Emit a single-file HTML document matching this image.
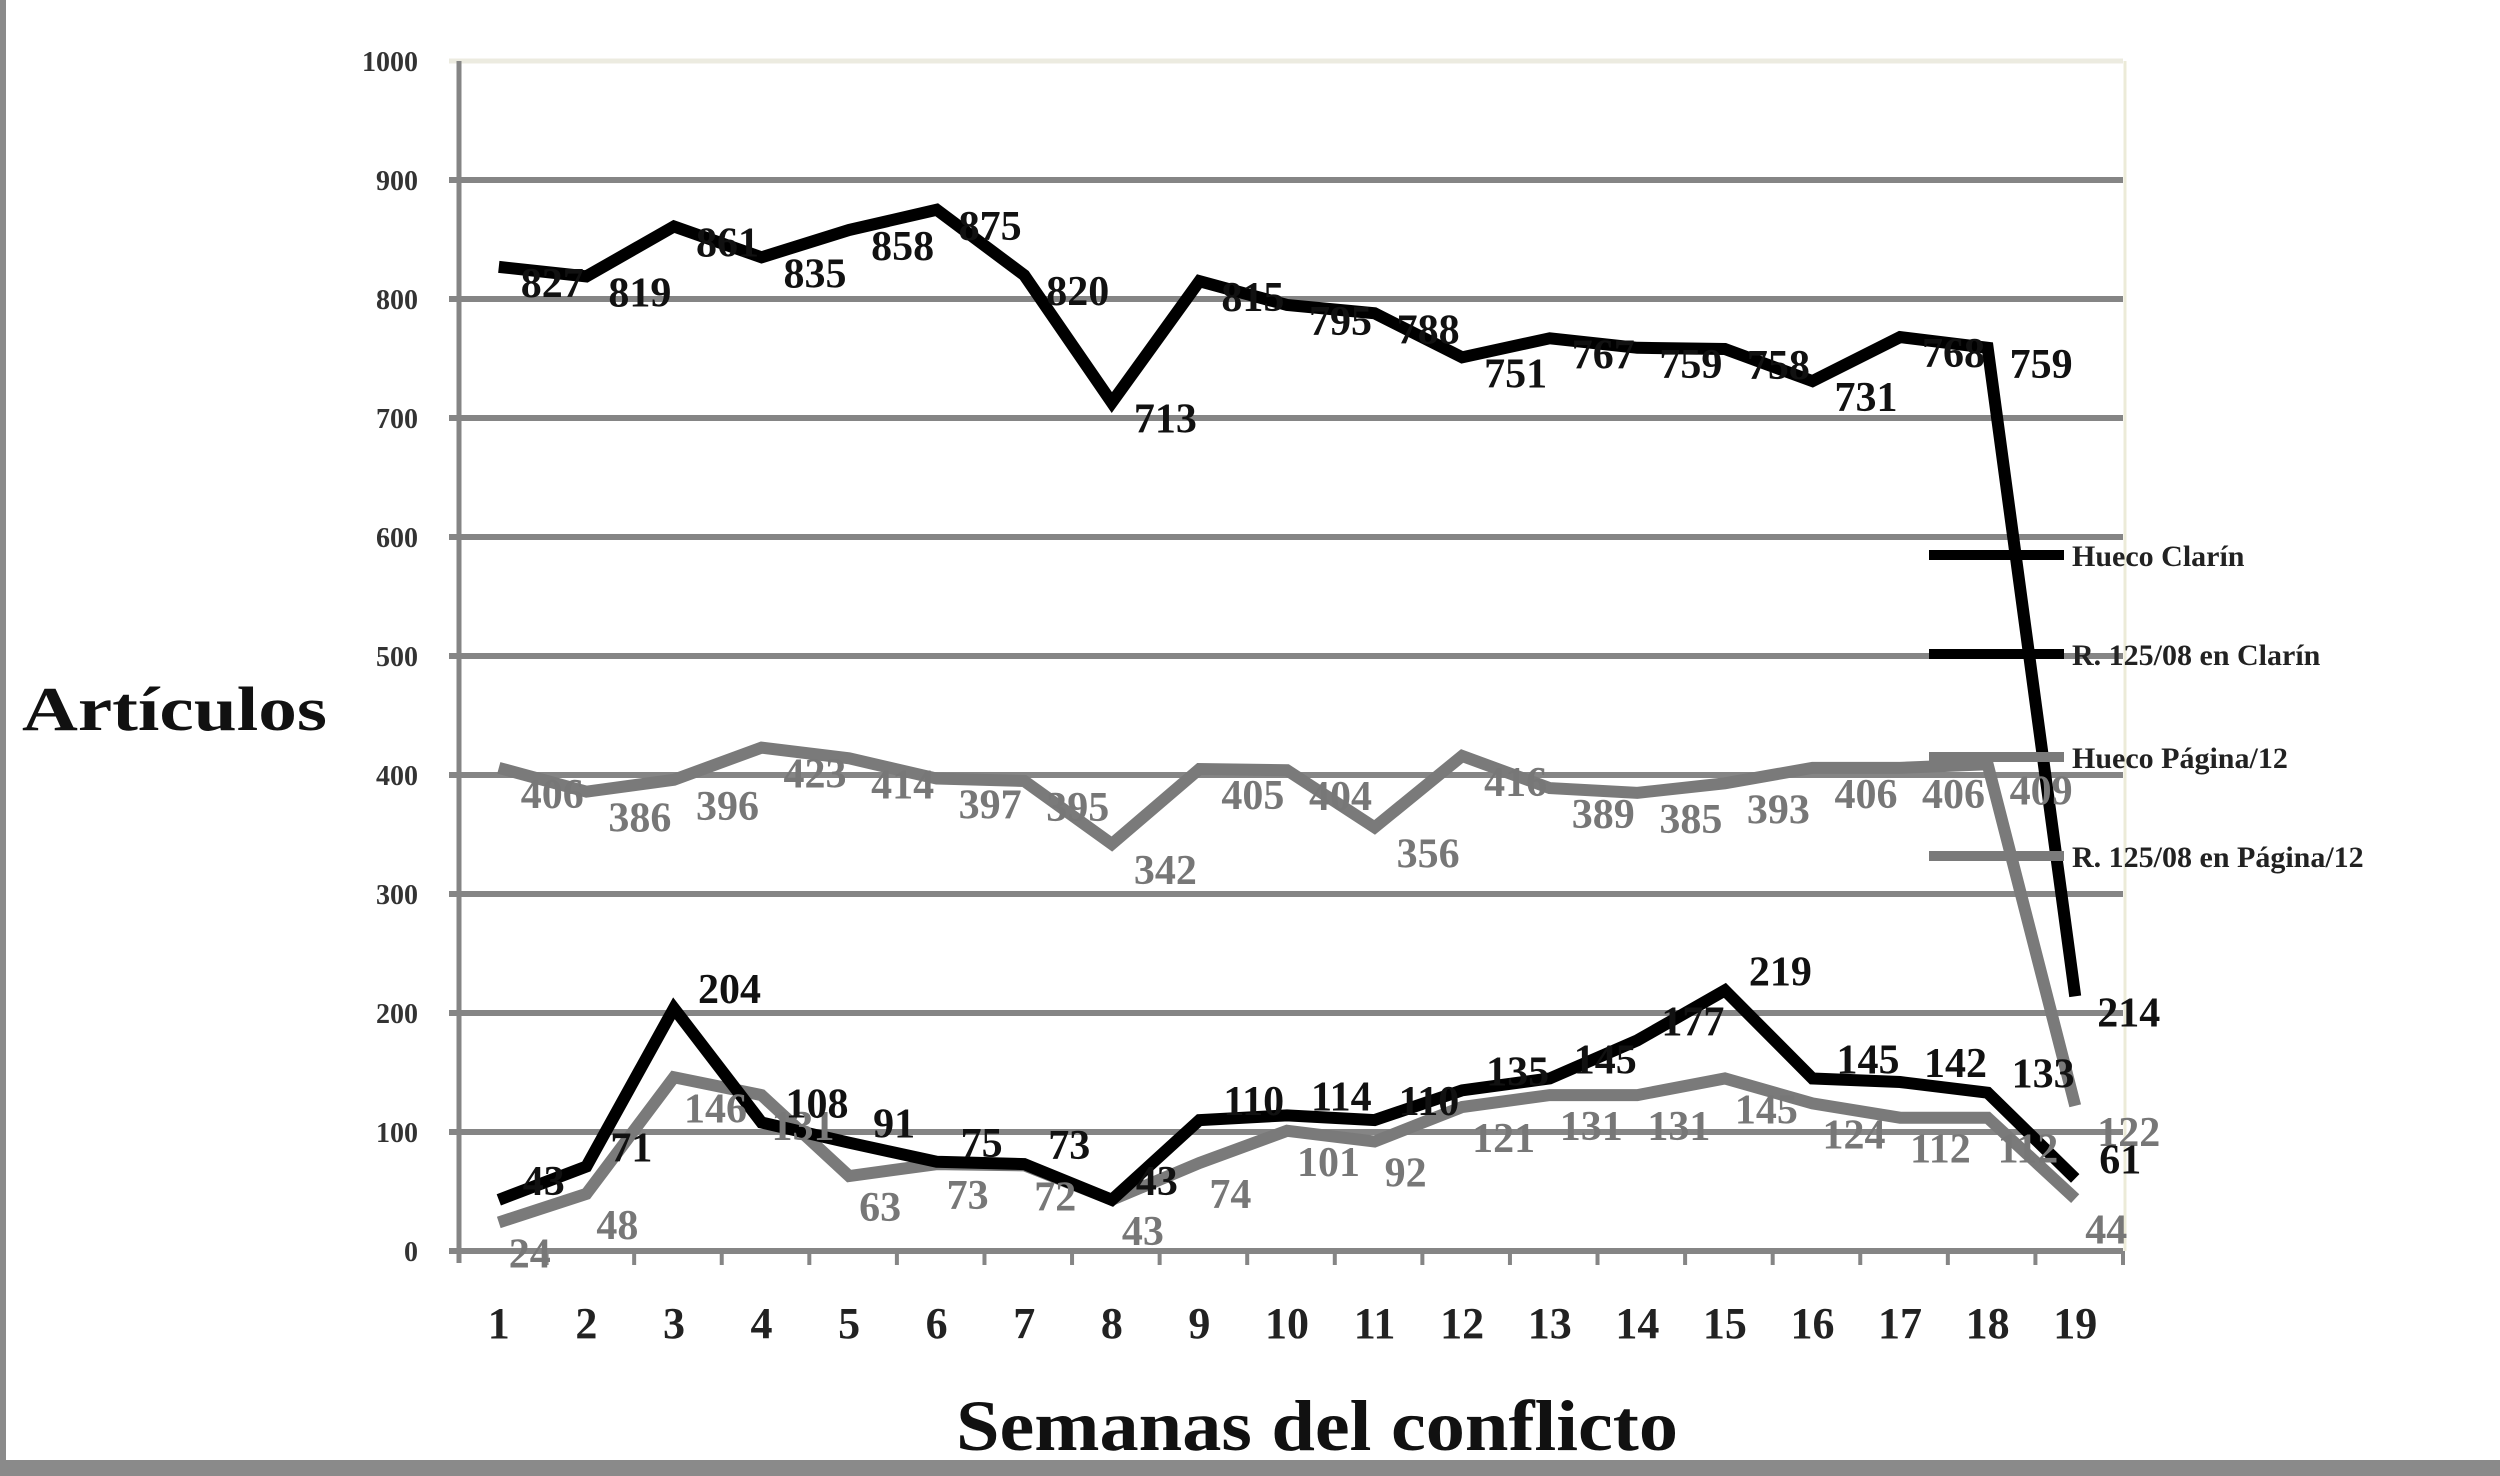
<!DOCTYPE html>
<html><head><meta charset="utf-8"><style>
html,body{margin:0;padding:0;background:#fff;}
svg{display:block;}
text{font-family:"Liberation Serif",serif;font-weight:bold;}
</style></head><body>
<svg id="chart" width="2500" height="1476" viewBox="0 0 2500 1476" xmlns="http://www.w3.org/2000/svg">
<rect x="0" y="0" width="2500" height="1476" fill="#fff"/>
<rect x="0" y="0" width="6" height="1476" fill="#8a8a8a"/>
<rect x="0" y="1460" width="2500" height="16" fill="#8a8a8a"/>
<g id="grid"></g><g id="series"></g><g id="labels"></g><g id="legend"></g>
<text x="22" y="730" font-size="62" fill="#111" textLength="305" lengthAdjust="spacingAndGlyphs">Artículos</text>
<text x="956" y="1450" font-size="72" fill="#111" textLength="722" lengthAdjust="spacingAndGlyphs">Semanas del conflicto</text>
</svg>
<script>
const categories=[1,2,3,4,5,6,7,8,9,10,11,12,13,14,15,16,17,18,19];
const yTicks=[0,100,200,300,400,500,600,700,800,900,1000];
const huecoClarin=[827,819,861,835,858,875,820,713,815,795,788,751,767,759,758,731,768,759,214];
const rClarin=[43,71,204,108,91,75,73,43,110,114,110,135,145,177,219,145,142,133,61];
const huecoPagina=[406,386,396,423,414,397,395,342,405,404,356,416,389,385,393,406,406,409,122];
const rPagina=[24,48,146,131,63,73,72,43,74,101,92,121,131,131,145,124,112,112,44];
const seriesNames=["Hueco Clarín","R. 125/08 en Clarín","Hueco Página/12","R. 125/08 en Página/12"];

const NS="http://www.w3.org/2000/svg";
const X0=459,X1=2123,Y0=1251,Y1=61;
const bw=(X1-X0)/categories.length;
function xs(i){return X0+bw*(i+0.5)-4;}
function ys(v){return Y0-(v/1000)*(Y0-Y1);}
function mk(tag,attrs,parent){const e=document.createElementNS(NS,tag);for(const k in attrs)e.setAttribute(k,attrs[k]);parent.appendChild(e);return e;}
const grid=document.getElementById('grid'),ser=document.getElementById('series'),lab=document.getElementById('labels'),leg=document.getElementById('legend');

yTicks.forEach(v=>{
  const l=mk('line',{x1:X0-10,x2:X1,y1:ys(v),y2:ys(v),stroke:v===1000?'#ecebe0':'#858585','stroke-width':v===1000?5:6},grid);
  
  
  const t=mk('text',{x:418,y:ys(v)+10,'font-size':28,'text-anchor':'end',fill:'#333'},grid);
  t.textContent=v;
  
  
});
const ax=mk('line',{x1:X0,x2:X0,y1:Y1,y2:Y0+12,stroke:'#858585','stroke-width':5},grid);


const rb=mk('line',{x1:X1+2,x2:X1+2,y1:Y1,y2:Y0,stroke:'#ecebd8','stroke-width':3},grid);


categories.forEach((c,i)=>{
  const tk=mk('line',{x1:X0+bw*(i+1),x2:X0+bw*(i+1),y1:Y0,y2:Y0+14,stroke:'#858585','stroke-width':4},grid);
  
  
  const t=mk('text',{x:xs(i),y:1338,'font-size':44,'text-anchor':'middle',fill:'#222'},grid);
  t.textContent=c;
  
  
});

const defs=[
 {d:huecoPagina,c:'#7a7a7a',w:12,name:'series-hueco-pagina',dx:22,dy:40},
 {d:rPagina,c:'#7a7a7a',w:12,name:'series-r125-pagina',dx:10,dy:45},
 {d:huecoClarin,c:'#000',w:12,name:'series-hueco-clarin',dx:22,dy:30},
 {d:rClarin,c:'#000',w:12,name:'series-r125-clarin',dx:24,dy:-5}
];
defs.forEach(s=>{
  const p=mk('polyline',{points:s.d.map((v,i)=>xs(i)+','+ys(v)).join(' '),fill:'none',stroke:s.c,'stroke-width':s.w,'stroke-linejoin':'miter'},ser);
  
  
  s.d.forEach((v,i)=>{
    const t=mk('text',{x:xs(i)+s.dx,y:ys(v)+s.dy,'font-size':42,fill:s.c==='#000'?'#111':'#777'},lab);
    t.textContent=v;
    
    
  });
});

const legY=[555,654,757,856],legC=['#000','#000','#7a7a7a','#7a7a7a'];
seriesNames.forEach((n,i)=>{
  const l=mk('line',{x1:1929,x2:2064,y1:legY[i],y2:legY[i],stroke:legC[i],'stroke-width':10},leg);
  
  
  const t=mk('text',{x:2072,y:legY[i]+11,'font-size':30,fill:'#222'},leg);
  t.textContent=n;
  
  
});
</script>
</body></html>
